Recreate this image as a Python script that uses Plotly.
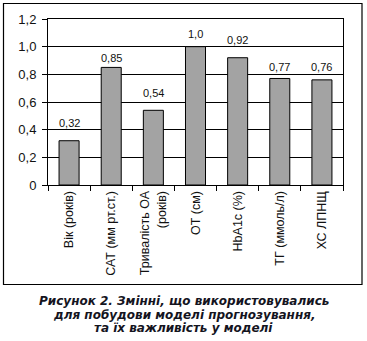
import plotly.graph_objects as go

# Variables used in the prediction model and their importance
categories = [
    "Вік (років)",
    "САТ (мм рт.ст.)",
    "Тривалість ОА<br>(років)",
    "ОТ (см)",
    "HbA1c (%)",
    "ТГ (ммоль/л)",
    "ХС ЛПНЩ",
]
importance = [0.32, 0.85, 0.54, 1.0, 0.92, 0.77, 0.76]
value_labels = ["0,32", "0,85", "0,54", "1,0", "0,92", "0,77", "0,76"]
y_ticks = [0, 0.2, 0.4, 0.6, 0.8, 1.0, 1.2]
y_tick_labels = ["0", "0,2", "0,4", "0,6", "0,8", "1,0", "1,2"]

# pixel gap between each bar top and its value label
label_gap = [18, 9, 17, 13, 18, 11, 13]

caption_lines = [
    "Рисунок 2. Змінні, що використовувались",
    "для побудови моделі прогнозування,",
    "та їх важливість у моделі",
]
caption_y = [301, 314.5, 328]

FONT = "Liberation Sans, Arial, sans-serif"
CAPTION_FONT = "DejaVu Sans, sans-serif"

W, H = 367, 341
L, R, T, B = 48, 24, 19, 156
pw, ph = W - L - R, H - T - B


def px_x(x):
    return (x - L) / pw


def px_y(y):
    return (H - B - y) / ph


fig = go.Figure(
    go.Bar(
        x=categories,
        y=importance,
        marker=dict(color="#a3a3a3", line=dict(color="#000000", width=1)),
        hoverinfo="skip",
    )
)

for cat, val, lab, gap in zip(categories, importance, value_labels, label_gap):
    fig.add_annotation(
        x=cat, y=val, text=lab, showarrow=False,
        yanchor="middle", yshift=gap,
        font=dict(family=FONT, size=11, color="#111111"),
    )

# outer frame around the chart
fig.add_shape(
    type="rect", xref="paper", yref="paper",
    x0=px_x(3.5), x1=px_x(362), y0=px_y(284.5), y1=px_y(3.5),
    line=dict(color="#000000", width=1.2), layer="below",
)

for line, cy in zip(caption_lines, caption_y):
    fig.add_annotation(
        xref="paper", yref="paper", x=px_x(183.5), y=px_y(cy),
        text="<b><i>" + line + "</i></b>", showarrow=False,
        xanchor="center", yanchor="middle", align="center",
        font=dict(family=CAPTION_FONT, size=12, color="#14141e"),
    )

fig.update_layout(
    width=W, height=H,
    margin=dict(l=L, r=R, t=T, b=B, pad=0),
    paper_bgcolor="white", plot_bgcolor="white",
    bargap=0.525,
    showlegend=False,
    font=dict(family=FONT, color="#111111"),
    xaxis=dict(
        type="category",
        showline=True, linecolor="#000000", linewidth=1, mirror=True,
        ticks="outside", ticklen=5, tickcolor="#000000", tickwidth=1,
        tickson="boundaries", tickangle=-90,
        showgrid=False,
        tickfont=dict(family=FONT, size=12.5, color="#111111"),
    ),
    yaxis=dict(
        range=[0, 1.2],
        tickvals=y_ticks, ticktext=y_tick_labels,
        showline=True, linecolor="#000000", linewidth=1, mirror=True,
        ticks="outside", ticklen=5, tickcolor="#000000", tickwidth=1,
        ticklabelstandoff=3,
        showgrid=True, gridcolor="#000000", gridwidth=1,
        zeroline=False,
        tickfont=dict(family=FONT, size=13, color="#111111"),
    ),
)

fig.write_html("out.html")
